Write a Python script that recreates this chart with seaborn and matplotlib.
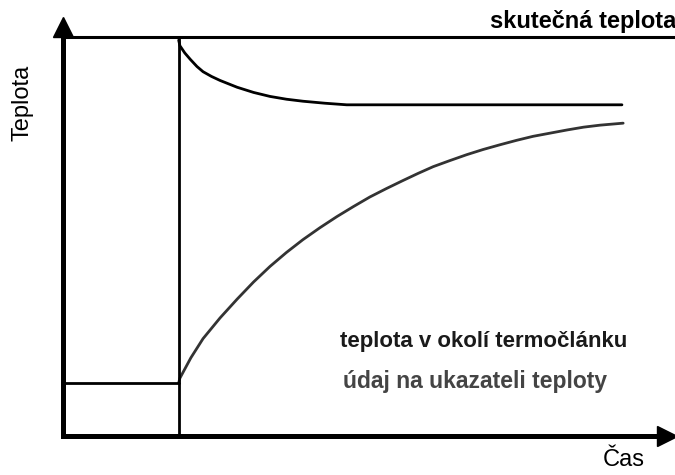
import numpy as np
import pandas as pd
import matplotlib
matplotlib.use("Agg")
import matplotlib.pyplot as plt
import seaborn as sns

# time of the step change and the temperatures
t_step = 19
t_initial = 13.3
t_actual = 100

# thermocouple surroundings temperature (fast decay from the actual value)
surround_time = [19.0, 19.2, 20.0, 20.9, 22.0, 23.0, 24.4, 25.8, 28.6, 31.3,
                 34.0, 36.7, 39.4, 43.0, 46.6, 91.8]
surround_temp = [99.2, 97.8, 96.0, 94.4, 92.6, 91.3, 90.1, 89.1, 87.4, 86.1,
                 85.1, 84.4, 83.9, 83.4, 83.0, 83.0]

# indicated temperature (slow rise)
indicated_time = [19.0, 19.2, 21.0, 23.0, 25.8, 28.6, 31.3, 34.0, 36.7, 39.4,
                  42.2, 45.0, 47.7, 50.4, 53.1, 55.8, 58.3, 60.8, 63.5, 66.3,
                  69.0, 71.8, 74.5, 77.2, 80.0, 82.8, 85.5, 88.2, 92.0]
indicated_temp = [13.3, 14.5, 19.6, 24.4, 29.6, 34.3, 38.6, 42.5, 46.0, 49.2,
                  52.2, 55.0, 57.5, 59.9, 62.0, 64.0, 65.8, 67.5, 69.0, 70.5,
                  71.8, 73.0, 74.1, 75.1, 75.9, 76.7, 77.4, 77.9, 78.4]

sns.set_theme(style="white")
plt.rcParams['font.family'] = ['Liberation Sans', 'DejaVu Sans']

fig = plt.figure(figsize=(6.75, 4.75), dpi=100)
ax = fig.add_axes([63 / 675, 39 / 475, 604 / 675, 409 / 475])

surround = pd.DataFrame({'cas': surround_time, 'teplota': surround_temp})
indicated = pd.DataFrame({'cas': indicated_time, 'teplota': indicated_temp})

sns.lineplot(data=surround, x='cas', y='teplota', sort=False, estimator=None,
             color='black', linewidth=2.0, ax=ax)
sns.lineplot(data=indicated, x='cas', y='teplota', sort=False, estimator=None,
             color='#333333', linewidth=2.0, ax=ax)

# actual temperature step
ax.axhline(t_actual, xmin=0, xmax=1.02, color='black', linewidth=2.2, clip_on=False)
ax.axvline(t_step, ymin=0, ymax=t_actual / 102.5, color='black', linewidth=2.0)
ax.plot([0, t_step], [t_initial, t_initial], color='black', linewidth=2.0)

ax.set_xlim(0, 99.2)
ax.set_ylim(0, 102.5)
ax.set_xticks([])
ax.set_yticks([])
ax.set_xlabel('')
ax.set_ylabel('')

for side in ['top', 'right']:
    ax.spines[side].set_visible(False)
for side in ['left', 'bottom']:
    ax.spines[side].set_color('black')
    ax.spines[side].set_linewidth(3.6)
    ax.spines[side].set_capstyle('projecting')

# arrow heads on the axes
ax.plot(0, 1, '^', color='black', markersize=15, transform=ax.transAxes, clip_on=False)
ax.plot(1, 0, '>', color='black', markersize=15, transform=ax.transAxes, clip_on=False)

ax.text(70.1, 102.3, 'skutečná teplota', fontsize=17, fontweight='bold',
        ha='left', va='baseline', color='black', clip_on=False)
ax.text(45.5, 22.3, 'teplota v okolí termočlánku', fontsize=16, fontweight='bold',
        ha='left', va='baseline', color='#1a1a1a')
ax.text(46.0, 12.0, 'údaj na ukazateli teploty', fontsize=16.5, fontweight='bold',
        ha='left', va='baseline', color='#444444')
ax.text(88.7, -7.6, 'Čas', fontsize=17, ha='left', va='baseline', color='black',
        clip_on=False)
ax.text(-6.6, 83.5, 'Teplota', fontsize=17, rotation=90, ha='center', va='center',
        color='black', clip_on=False)

fig.savefig('out.png', dpi=100)
